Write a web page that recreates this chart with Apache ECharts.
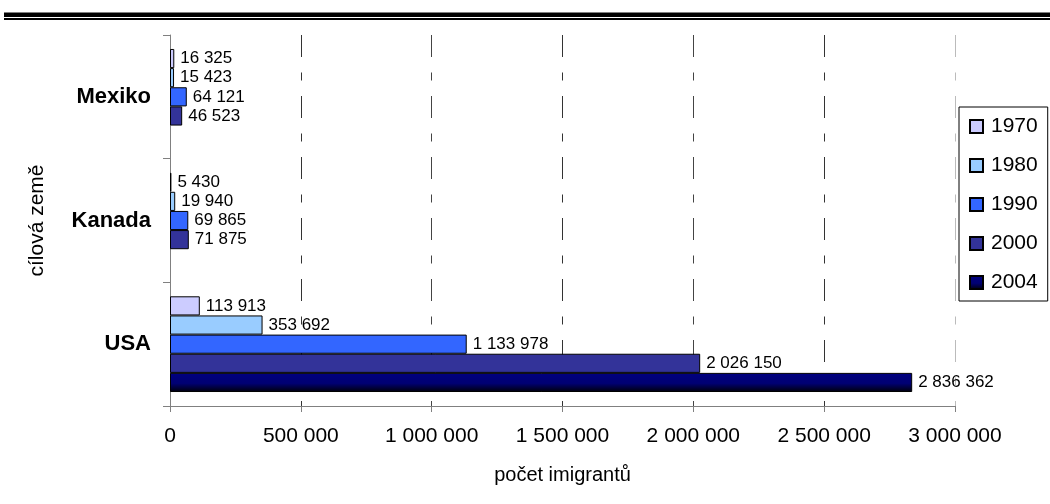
<!DOCTYPE html>
<html>
<head>
<meta charset="utf-8">
<script src="https://cdn.jsdelivr.net/npm/echarts@6/dist/echarts.min.js"></script>
<style>
html,body{margin:0;padding:0;background:#fff;}
#chart{width:1050px;height:504px;}
</style>
</head>
<body>
<div id="chart"></div>
<script>
// Data
const countries = ['USA', 'Kanada', 'Mexiko'];
const years = ['1970', '1980', '1990', '2000', '2004'];
const v1970 = [113913, 5430, 16325];
const v1980 = [353692, 19940, 15423];
const v1990 = [1133978, 69865, 64121];
const v2000 = [2026150, 71875, 46523];
const v2004 = [2836362, null, null];
const xTicks = [0, 500000, 1000000, 1500000, 2000000, 2500000, 3000000];
const xTitle = 'počet imigrantů';
const yTitle = 'cílová země';

const values = [v1970, v1980, v1990, v2000, v2004];
const colors = [
  '#CCCCFF',
  '#99CCFF',
  '#3366FF',
  '#333399',
  {type:'linear', x:0, y:0, x2:0, y2:1, colorStops:[
    {offset:0, color:'#000080'}, {offset:0.55, color:'#000072'}, {offset:1, color:'#000008'}]}
];
const FONT = 'Arial, "Liberation Sans", sans-serif';

function fmt(v){
  return String(Math.round(v)).replace(/\B(?=(\d{3})+(?!\d))/g, ' ');
}

const chart = echarts.init(document.getElementById('chart'), null, {renderer:'canvas'});

const series = years.map((y, i) => ({
  name: y,
  type: 'bar',
  data: values[i],
  barGap: '0%',
  barCategoryGap: '22.6%',
  itemStyle: { color: colors[i], borderColor: '#000', borderWidth: 1 },
  label: {
    show: true,
    position: 'right',
    distance: 6,
    color: '#000',
    fontFamily: FONT,
    fontSize: 17,
    formatter: p => (p.value == null ? '' : fmt(p.value))
  },
  emphasis: { disabled: true },
  animation: false
}));

chart.setOption({
  animation: false,
  backgroundColor: '#fff',
  grid: { left: 170, right: 95, top: 35, bottom: 98, containLabel: false },
  xAxis: {
    type: 'value',
    min: xTicks[0],
    max: xTicks[xTicks.length - 1],
    interval: xTicks[1] - xTicks[0],
    name: xTitle,
    nameLocation: 'middle',
    nameGap: 59,
    nameTextStyle: { fontFamily: FONT, fontSize: 20, color: '#000' },
    axisLine: { show: true, lineStyle: { color: '#808080', width: 1 } },
    axisTick: { show: true, length: 6, lineStyle: { color: '#808080' } },
    axisLabel: { margin: 20, fontFamily: FONT, fontSize: 21, color: '#000', formatter: v => fmt(v) },
    splitLine: { show: true, lineStyle: { color: ['#333','#333','#444','#333','#444','#333','#bbb'], width: 1, type: [22, 15.5, 8, 15.5] } }
  },
  yAxis: {
    type: 'category',
    data: countries,
    name: yTitle,
    nameLocation: 'middle',
    nameGap: 122,
    nameTextStyle: { fontFamily: FONT, fontSize: 21, color: '#000' },
    axisLine: { show: true, lineStyle: { color: '#808080', width: 1 } },
    axisTick: { show: true, length: 7, lineStyle: { color: '#808080' } },
    axisLabel: { margin: 19, fontFamily: FONT, fontSize: 22, fontWeight: 'bold', color: '#000' },
    splitLine: { show: false }
  },
  legend: {
    orient: 'vertical',
    left: 959,
    top: 107,
    padding: [9, 10, 8, 10],
    itemWidth: 13,
    itemHeight: 13,
    itemGap: 18,
    borderColor: '#000',
    borderWidth: 1,
    backgroundColor: '#fff',
    icon: 'rect',
    textStyle: { fontFamily: FONT, fontSize: 21, color: '#000', lineHeight: 21, padding: [0,0,0,3] },
    data: years
  },
  graphic: [
    { type: 'rect', shape: { x: 4, y: 12.5, width: 1046, height: 4.5 }, style: { fill: '#000' }, silent: true },
    { type: 'rect', shape: { x: 4, y: 18, width: 1046, height: 2 }, style: { fill: '#000' }, silent: true }
  ],
  series: series
});
</script>
</body>
</html>
